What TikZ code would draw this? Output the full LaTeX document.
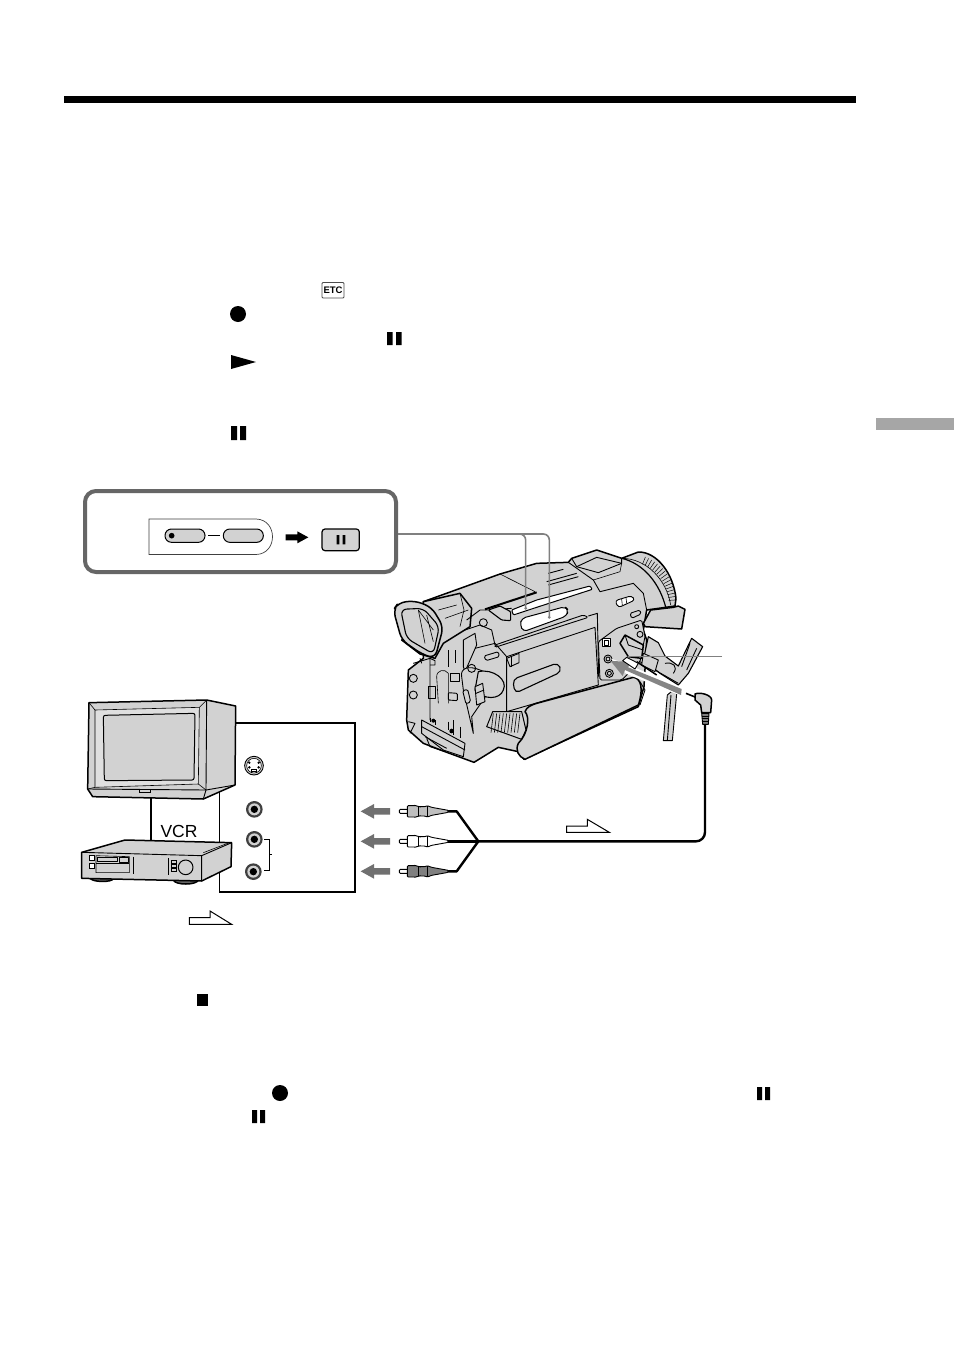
\documentclass[tikz,border=0pt]{standalone}
\usepackage{fontspec}
\setmainfont{Liberation Sans}
\definecolor{body}{HTML}{D2D2D2}
\definecolor{frameg}{HTML}{666666}
\definecolor{arrowg}{HTML}{707070}
\definecolor{pointg}{HTML}{808080}
\tikzset{
  ol/.style={draw=black,line width=1.5pt,line join=round},
  thin1/.style={draw=black,line width=.6pt},
  med/.style={draw=black,line width=.9pt,line join=round},
  gf/.style={fill=body},
  wf/.style={fill=white},
  hollow/.style={draw=black,line width=1pt,fill=white,line join=miter},
  bar/.style={fill=black,draw=none},
  wire/.style={draw=black,line width=2.4pt,line join=round},
  pointer/.style={draw=pointg,line width=1.6pt,rounded corners=6pt},
  zoomed/.style={x=.33333pt,y=-.33333pt}
}
\begin{document}
\begin{tikzpicture}[x=1pt,y=-1pt]
\useasboundingbox (0,0) rectangle (954,1352);
\fill[white] (0,0) rectangle (954,1352);
% page furniture
\fill[black] (64,96) rectangle (856,103);
\fill[black!35] (876,418) rectangle (954,430);
% inline symbols
\draw[line width=.8pt,draw=black!70,rounded corners=1pt] (322,282.5) rectangle (344,298);
\node[inner sep=0pt,font=\bfseries\fontsize{9.5}{10}\selectfont] (etc) at (333,290.3) {ETC};
\fill (238,314) circle (8);
\fill[bar] (387,332) rectangle (392.5,345) (396,332) rectangle (401.5,345);
\fill[bar] (231,355) -- (256,362) -- (231,369) -- cycle;
\fill[bar] (231,426) rectangle (237,440) (240,426) rectangle (246,440);
\fill[bar] (197,994) rectangle (208,1006);
\fill (280,1093) circle (8);
\fill[bar] (757,1087) rectangle (762,1100) (765,1087) rectangle (770,1100);
\fill[bar] (252,1110) rectangle (257,1123) (260,1110) rectangle (265,1123);

% camera
\begin{scope}[shift={(380,530)},zoomed]
 % body
 \path[ol,gf] (130,215) -- (360,132) -- (470,100) -- (565,97) -- (575,85) -- (650,60) -- (725,85) -- (775,66) .. controls (830,65) and (880,130) .. (888,205) -- (885,228) -- (800,240) -- (790,300) -- (800,330) -- (792,470) -- (775,530) -- (432,688) -- (415,665) -- (355,652) -- (282,697) -- (195,665) -- (130,640) -- (85,600) -- (80,570) -- (85,420) -- (130,385) -- cycle;
 % lens
 \draw[med,line width=1.2pt] (725,85) .. controls (790,100) and (840,160) .. (858,235);
 \foreach \a in {-68,-64,...,-4} \draw[thin1,line width=.5pt] (740,220)+(\a:126) -- +(\a:150);
 \draw[thin1] (725,85) .. controls (800,85) and (860,150) .. (872,225);
 % shoe
 \draw[med] (575,85) -- (590,110) -- (655,128) -- (725,100) -- (725,85);
 \draw[med] (590,110) -- (650,82) -- (725,100);
 \draw[med] (565,97) -- (640,150) -- (660,185) -- (760,160) -- (790,190) -- (800,240);
 \draw[thin1] (640,150) -- (720,125) -- (725,100);
 % top grooves
 \draw[med] (500,155) -- (590,130) (505,165) -- (595,140) (505,130) -- (550,118);
 % handle wedge
 \draw[thin1] (360,132) -- (465,185);
 \draw[ol,line width=2pt] (315,238) -- (470,187);
 % slots
 \path[ol,wf,line width=1pt,rounded corners=1pt] (395,240) -- (470,210) -- (630,168) -- (637,178) -- (470,232) -- (400,255) -- cycle;
 \path[ol,wf,line width=1pt,rounded corners=4pt] (420,285) -- (425,265) -- (555,230) -- (565,240) -- (560,258) -- (430,305) -- cycle;
 % side panel
 \path[med,gf] (380,380) -- (645,292) -- (655,465) -- (380,545) -- cycle;
 \draw[med,rounded corners=1.5pt] (345,345) -- (610,255) -- (625,262) -- (345,352) -- cycle;
 \draw[med] (625,258) -- (652,250) -- (656,440);
 \path[ol,fill=body,line width=1.1pt,rounded corners=5pt] (398,448) -- (535,398) -- (545,425) -- (405,490) -- cycle;
 \path[med,gf] (380,385) -- (417,370) -- (417,398) -- (390,410) -- cycle;
 \draw[thin1] (395,378) -- (395,410);
 % eyepiece
 \path[ol,gf] (130,215) -- (240,190) -- (275,235) -- (270,290) -- (190,340) -- (165,385) -- (120,372) -- (65,330) -- (130,300) -- cycle;
 \path[ol,gf,rounded corners=7pt] (40,240) -- (55,218) -- (105,212) -- (155,232) -- (190,290) -- (165,385) -- (125,372) -- (65,330) -- cycle;
 \path[ol,line width=1.1pt,gf,rounded corners=6pt] (62,238) -- (130,235) -- (178,290) -- (160,372) -- (80,325) -- cycle;
 \draw[thin1] (115,240) -- (135,340) (140,255) -- (160,335) (115,240) -- (160,300);
 \draw[thin1] (175,240) -- (230,225) (195,265) -- (265,240);
 \draw[thin1] (240,190) -- (252,240) -- (240,290);
 % left side details
 \draw[med] (260,270) -- (300,240) -- (330,240) -- (395,235);
 \draw[ol,line width=1.1pt,gf,rounded corners=1pt] (325,240) -- (360,228) -- (392,245) -- (392,272) -- (365,270) -- cycle;
 \draw[med] (310,278) circle (12);
 \draw[med] (255,300) -- (300,285) -- (335,300) -- (345,345);
 \path[med,gf] (250,330) -- (285,310) -- (290,345) -- (255,425) -- (250,410) -- cycle;
 \draw[med] (285,355) -- (345,340) -- (380,380);
 \path[med,gf,rounded corners=1.5pt] (312,378) -- (355,365) -- (358,380) -- (318,392) -- cycle;
 \draw[thin1] (205,360) -- (205,410) (225,360) -- (225,400);
 \path[med,gf] (210,430) rectangle (238,455);
 \path[med,gf,rounded corners=1pt] (205,488) -- (232,490) -- (232,512) -- (205,510) -- cycle;
 \draw[thin1] (170,440) .. controls (170,420) and (195,415) .. (205,430) -- (205,520) (170,440) -- (175,520);
 \path[med,gf] (145,470) rectangle (165,505);
 \draw[med] (100,400) -- (150,385) -- (150,570);
 \draw[med] (100,445) circle (12) (100,495) circle (12);
 \draw[med] (120,385) -- (125,400) (150,385) -- (165,392) -- (165,405) -- (150,405);
 \draw[med] (85,575) -- (105,580) -- (90,610);
 % dial
 \path[med,gf] (245,440) .. controls (240,415) and (265,405) .. (300,420) -- (340,435) -- (330,480) -- (275,560) -- (280,610) -- (250,480) -- cycle;
 \draw[med] (275,415) circle (12);
 \path[ol,gf,line width=1.1pt] (295,425) .. controls (340,415) and (385,450) .. (370,480) .. controls (360,510) and (310,510) .. (285,480) -- cycle;
 \path[med,gf] (285,470) -- (308,460) -- (315,515) -- (290,525) -- cycle;
 \draw[med] (288,490) -- (312,480);
 \path[med,gf,rounded corners=1.5pt] (248,482) -- (263,478) -- (272,515) -- (258,522) -- cycle;
 % base
 \path[med,gf] (125,570) -- (255,640) -- (250,680) -- (190,660) -- (125,610) -- cycle;
 \draw[med] (125,590) -- (255,660) (135,620) -- (200,655);
 \draw[med] (150,575) -- (150,565) (165,570) -- (165,585) (205,575) -- (205,600) (220,570) -- (220,615) (240,590) -- (240,625);
 \fill (215,603) circle (7) (160,572) circle (6);
 \draw[med] (140,625) -- (150,650) -- (195,665);
 % strap
 \path[ol,gf,line width=1pt] (338,545) -- (425,545) -- (438,600) -- (425,628) -- (320,590) -- cycle;
 \foreach \x in {340,350,...,420} \draw[thin1] (\x,550) -- (\x-7,608);
 % hand grip
 \path[ol,gf] (470,520) -- (760,442) .. controls (785,445) and (790,480) .. (775,525) -- (435,688) .. controls (415,680) and (405,660) .. (415,640) .. controls (445,610) and (450,560) .. (435,545) .. controls (440,530) and (455,525) .. (470,520) -- cycle;
 \draw[med] (780,455) -- (795,480) -- (780,525);
 % socket panel
 \path[med,gf,rounded corners=1.5pt] (655,335) -- (710,295) -- (785,270) -- (795,320) -- (780,395) -- (725,450) -- (660,450) -- cycle;
 \path[med,fill=white] (668,325) rectangle (690,350);
 \draw[med] (673,330) rectangle (685,345);
 \draw[med,fill=body] (684,387) circle (12) (684,387) circle (6);
 \draw[med,fill=body] (688,430) circle (12) (688,430) circle (6);
 \draw[med] (780,313) circle (9) (770,290) circle (6);
 % controls right
 \path[med,fill=white,rounded corners=3pt] (705,212) -- (755,197) -- (765,210) -- (715,233) -- cycle;
 \draw[thin1] (725,207) -- (727,226) (738,203) -- (740,220);
 \path[med,gf,rounded corners=1.5pt] (750,250) -- (780,240) -- (783,252) -- (755,265) -- cycle;
 % cable cover
 \path[ol,gf,line width=1.1pt] (805,320) -- (835,338) -- (855,378) -- (895,408) -- (935,325) -- (968,350) -- (925,430) -- (895,465) -- (840,430) -- (790,390) -- cycle;
 \draw[med] (930,340) -- (905,410) (950,355) -- (920,420) (780,395) -- (860,440) -- (895,460);
 \draw[med] (855,400) .. controls (880,395) and (895,410) .. (880,430);
 % jack plug in panel
 \path[ol,gf] (720,340) -- (735,315) -- (790,345) -- (785,385) -- (745,380) -- cycle;
 \draw[med] (735,315) -- (745,345) -- (790,360);
 \path[med,gf] (790,370) -- (835,390) -- (825,425) -- (785,405) -- cycle;
 \draw[ol] (770,395) -- (830,435);
 % strap hanging
 \path[med,gf] (862,495) -- (850,632) -- (877,632) -- (892,470) -- cycle;
 \draw[med] (873,495) -- (862,632);
 % flap
 \path[ol,gf] (812,240) -- (880,232) -- (895,228) -- (915,238) -- (905,297) -- (795,290) -- (790,280) -- cycle;
 % big arrow
 \path[fill=white] (908,475) -- (905,498) -- (740,432) -- (705,395) -- (690,385) -- (735,400) -- cycle;
 \path[fill=arrowg!85] (905,477) -- (745,412) -- (750,395) -- (692,393) -- (728,438) -- (735,420) -- (903,495) -- cycle;
 % white connector on the arrow
 \path[med,fill=white] (728,392) -- (740,382) -- (775,400) -- (765,417) -- cycle;
 % label pointer
 \coordinate (lblend) at (1026,380);
 \coordinate (lblstart) at (745,380);
 \draw[draw=pointg,line width=1.3pt] (lblend) -- (lblstart);
 % av plug
 \coordinate (jacktail) at (975,585);
 \draw[black,line width=1.6pt] (918,490) -- (950,503);
 \path[ol,gf] (945,492) .. controls (960,485) and (995,495) .. (995,510) -- (992,548) -- (965,548) -- (962,525) -- (945,510) -- cycle;
 \path[med,fill=black!50] (965,550) -- (987,550) -- (985,583) -- (968,583) -- cycle;
 \draw[black,line width=.8pt] (966,558) -- (986,558) (966,566) -- (986,566) (967,574) -- (985,574);
 \coordinate (ptrA) at (437,235);
 \coordinate (ptrB) at (508,262);
\end{scope}

% button box
\draw[draw=frameg,line width=4pt,rounded corners=11pt] (85,491) rectangle (396,572);
\draw[line width=.7pt,draw=black!75] (256,519) -- (149,519) -- (149,554.5) -- (256,554.5) .. controls (278,554) and (278,519.5) .. (256,519);
\begin{scope}[shift={(60,480)},zoomed]
 \path[draw=black,line width=1pt,fill=body,rounded corners=6.5pt] (315,147) rectangle (435,187);
 \path[draw=black,line width=1pt,fill=body,rounded corners=6.5pt] (490,147) rectangle (610,187);
 \fill (335,167) circle (8.5);
 \draw[line width=1.5pt] (445,167) -- (480,167);
 \fill (677,163) -- (712,163) -- (712,154) -- (745,172) -- (712,190) -- (712,181) -- (677,181) -- cycle;
 \path[draw=black,line width=1.2pt,fill=body,rounded corners=3pt] (786,147) rectangle (898,212);
 \fill (830,165) rectangle (838,193) (848,165) rectangle (856,193);
\end{scope}
\coordinate (boxedge) at (398,534);
\draw[pointer] (boxedge) -| (ptrA);
\draw[pointer] (boxedge) -| (ptrB);
\fill[pointg] (ptrA) circle (1.5) (ptrB) circle (1.5);

% TV, VCR and the panel
\begin{scope}[shift={(70,690)},zoomed]
 \coordinate (paneltop) at (497,98);
 \draw[black,line width=2pt,line join=miter] (paneltop) -- (855,98) -- (855,606) -- (448,606);
 \draw[black,line width=1pt] (448,607) -- (448,300);
 \draw[black,line width=2.2pt] (242,320) -- (242,460);
 \path[ol,gf] (57,38) -- (410,30) -- (497,48) -- (495,285) -- (400,327) -- (68,320) -- (53,297) -- cycle;
 \draw[med] (410,30) -- (408,300) -- (400,327);
 \draw[med] (53,297) -- (408,300) -- (495,285);
 \path[thin1,fill=body!70] (75,60) -- (388,52) -- (385,282) -- (75,292) -- cycle;
 \path[ol,line width=1pt,gf,rounded corners=2pt] (100,76) -- (375,70) -- (372,270) -- (103,272) -- cycle;
 \draw[thin1] (57,38) -- (75,60) (410,30) -- (388,52) (75,292) -- (53,297) (385,282) -- (408,300);
 \draw[thin1] (207,297) rectangle (240,307);
 % VCR
 \draw[ol,fill=black!60] (60,562) .. controls (60,578) and (130,578) .. (130,565) -- cycle;
 \draw[ol,fill=black!60] (310,570) .. controls (315,586) and (380,586) .. (385,570) -- cycle;
 \path[ol,gf] (35,487) -- (165,450) -- (485,458) -- (483,530) -- (395,573) -- (35,565) -- cycle;
 \draw[med] (35,487) -- (395,497) -- (395,573) (395,497) -- (485,458);
 \draw[thin1] (400,488) -- (478,458);
 \path[thin1,wf] (58,495) rectangle (72,510) (58,520) rectangle (72,536);
 \draw[thin1] (78,497) -- (78,548) -- (178,548) -- (178,500) -- cycle;
 \draw[med] (82,503) rectangle (143,515);
 \draw[med] (148,503) rectangle (175,517);
 \draw[thin1] (78,520) -- (178,520) (190,500) -- (190,552) (295,505) -- (295,555);
 \path[thin1,gf] (303,512) rectangle (320,520) (303,523) rectangle (320,531) (303,534) rectangle (320,543);
 \path[ol,line width=1pt,gf] (347,532) circle (22);
 % S-video port
 \path[med,fill=body] (552,227) circle (28);
 \draw[thin1,fill=white] (552,227) circle (22);
 \fill (538,218) circle (4) (566,218) circle (4) (538,232) circle (4) (566,232) circle (4);
 \draw[thin1,fill=white] (545,238) rectangle (559,245);
 % RCA ports
 \foreach \px/\py in {553/358,553/448,550/545}{
  \fill[black!75] (\px,\py) circle (25);
  \fill[body] (\px,\py) circle (18);
  \fill[black] (\px,\py) circle (11);
 }
 \draw[black,line width=1pt] (582,448) -- (597,448) -- (597,540) -- (582,540) (597,493) -- (607,493);
 \node[font=\fontsize{17.5}{18}\selectfont,inner sep=0pt] (vcrlabel) at (327,425) {VCR};
 \path[hollow] (358,683) -- (420,683) -- (420,663) -- (485,703) -- (358,703) -- cycle;
\end{scope}

% plugs and cable
\begin{scope}[shift={(350,780)},zoomed]
 \coordinate (junction) at (385,184);
 \coordinate (cabletop) at (320,94);
 \coordinate (cablemid) at (290,184);
 \coordinate (cablebot) at (320,274);
 \path[hollow] (650,138) -- (712,138) -- (712,118) -- (778,157) -- (650,157) -- cycle;
 \draw[wire] (cablemid) -- (junction);
 \draw[wire] (295,94) -- (cabletop) -- (junction) -- (cablebot) -- (295,274);
 \foreach \py/\c in {94/black!25,184/white,274/black!50}{
  \fill[arrowg] (32,\py) -- (72,\py-22) -- (72,\py-10) -- (120,\py-10) -- (120,\py+10) -- (72,\py+10) -- (72,\py+22) -- cycle;
  \path[draw=black,line width=.9pt,fill=white,rounded corners=1pt] (148,\py-6) rectangle (175,\py+6);
  \path[draw=black,line width=.9pt,fill=\c,rounded corners=1pt] (172,\py-17) -- (200,\py-17) -- (205,\py-14) -- (225,\py-14) -- (232,\py-17) -- (245,\py-12) -- (295,\py-3) -- (295,\py+3) -- (245,\py+12) -- (232,\py+17) -- (225,\py+14) -- (205,\py+14) -- (200,\py+17) -- (172,\py+17) -- cycle;
  \draw[black,line width=.5pt] (205,\py-14) -- (205,\py+14) (232,\py-17) -- (232,\py+17);
 }
\end{scope}
\draw[wire,rounded corners=9pt] (junction) -- (jacktail|-junction) -- (jacktail);
\end{tikzpicture}
\end{document}
